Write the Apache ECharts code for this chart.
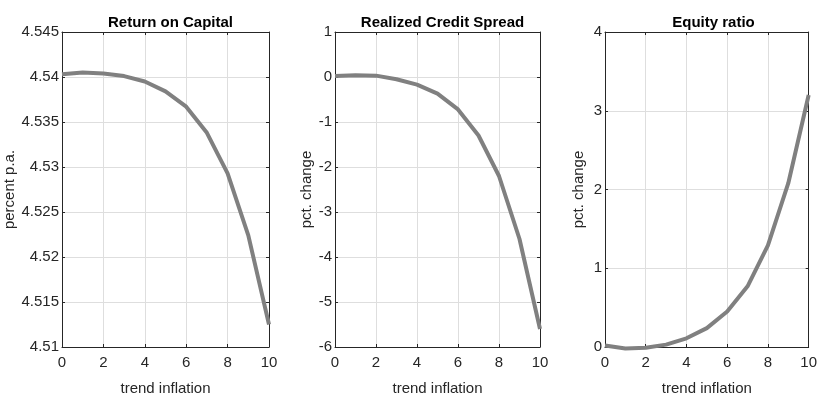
<!DOCTYPE html>
<html><head><meta charset="utf-8">
<script src="https://cdn.jsdelivr.net/npm/echarts@6/dist/echarts.min.js"></script>
<style>html,body{margin:0;padding:0;background:#fff}#c{width:820px;height:401px}</style>
</head><body><div id="c"></div>
<script>
const xValues = [0,1,2,3,4,5,6,7,8,9,10];
const titles = ['Return on Capital','Realized Credit Spread','Equity ratio'];
const yNames = ['percent p.a.','pct. change','pct. change'];
const xName = 'trend inflation';
const returnOnCapital = [4.5403,4.5405,4.5404,4.5401,4.5395,4.5384,4.5367,4.5338,4.5293,4.5224,4.5125];
const creditSpread = [0.02,0.04,0.03,-0.05,-0.17,-0.37,-0.72,-1.3,-2.2,-3.6,-5.6];
const equityRatio = [0.02,-0.02,-0.01,0.03,0.11,0.24,0.45,0.77,1.29,2.08,3.2];
const yRanges = [[4.51,4.545,0.005],[-6,1,1],[0,4,1]];
const yDecimals = [3,0,0];
const seriesData = [returnOnCapital, creditSpread, equityRatio];

const F = '"Liberation Sans",Arial,sans-serif';
const lefts = [62,335,605];
const widths = [207,205,207];
const axisCol = '#262626';
const chart = echarts.init(document.getElementById('c'));
const grid=[],xAxis=[],yAxis=[],series=[],title=[];
for(let i=0;i<3;i++){
  grid.push({left:lefts[i],width:widths[i],top:32,height:318,containLabel:false});
  title.push({text:titles[i],left:lefts[i]+widths[i]/2,top:10,textAlign:'center',
    textStyle:{fontFamily:F,fontWeight:'bold',fontSize:15,color:'#000'}});
  const xb={type:'value',gridIndex:i,min:0,max:10,interval:2,
    axisLine:{show:true,onZero:false,lineStyle:{color:axisCol,width:1}},
    axisTick:{show:true,inside:true,length:3,lineStyle:{color:axisCol}}};
  xAxis.push(Object.assign({},xb,{position:'bottom',name:xName,nameLocation:'middle',nameGap:34,
    nameTextStyle:{fontFamily:F,fontSize:15,color:'#262626'},
    axisLabel:{fontFamily:F,fontSize:15,color:'#262626',margin:8},
    splitLine:{show:true,lineStyle:{color:'#dedede',width:1}}}));
  xAxis.push(Object.assign({},xb,{position:'top',axisLabel:{show:false},splitLine:{show:false}}));
  const [mn,mx,iv]=yRanges[i];
  const d=yDecimals[i];
  const yb={type:'value',gridIndex:i,min:mn,max:mx,interval:iv,
    axisLine:{show:true,onZero:false,lineStyle:{color:axisCol,width:1}},
    axisTick:{show:true,inside:true,length:3,lineStyle:{color:axisCol}}};
  yAxis.push(Object.assign({},yb,{position:'left',name:yNames[i],nameLocation:'middle',nameGap:i===0?43:19,
    nameTextStyle:{fontFamily:F,fontSize:15,color:'#262626'},
    axisLabel:{fontFamily:F,fontSize:15,color:'#262626',margin:3,
      formatter:v=>{let s=(+v).toFixed(d);if(d>0)s=s.replace(/0+$/,'').replace(/\.$/,'');return s;}},
    splitLine:{show:true,lineStyle:{color:'#dedede',width:1}}}));
  yAxis.push(Object.assign({},yb,{position:'right',axisLabel:{show:false},splitLine:{show:false}}));
  series.push({type:'line',xAxisIndex:2*i,yAxisIndex:2*i,showSymbol:false,
    data:xValues.map((x,k)=>[x,seriesData[i][k]]),
    lineStyle:{color:'#808080',width:4},itemStyle:{color:'#808080'},animation:false,clip:false});
}
chart.setOption({animation:false,title,grid,xAxis,yAxis,series});
</script></body></html>
